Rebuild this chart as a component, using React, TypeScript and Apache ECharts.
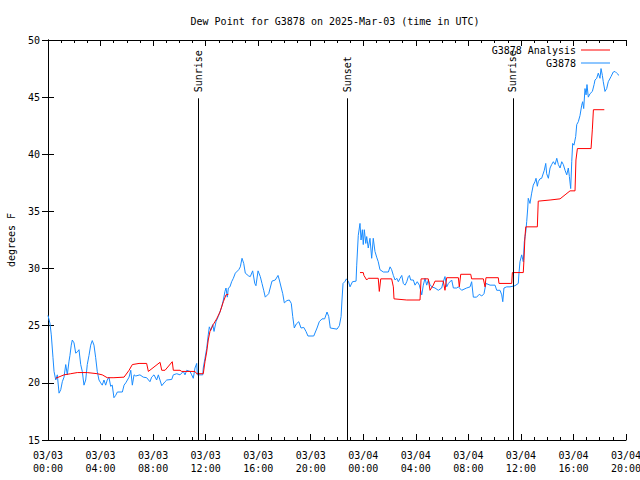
import React, { useEffect, useRef } from "react";
import * as echarts from "echarts";

// Hours since 2025-03-03 00:00 UTC
const stationHours = [
  0.0, 0.15, 0.25, 0.38, 0.46, 0.59, 0.71, 0.84, 0.97, 1.09, 1.22, 1.35, 1.47, 1.6, 1.67, 1.77, 1.85, 1.98,
  2.11, 2.23, 2.36, 2.49, 2.61, 2.74, 2.87, 2.99, 3.12, 3.25, 3.37, 3.5, 3.63, 3.75, 3.88, 4.01, 4.13, 4.26,
  4.39, 4.51, 4.64, 4.77, 4.89, 5.02, 5.15, 5.28, 5.66, 5.79, 5.92, 6.17, 6.3, 6.42, 6.55, 6.68, 7.0, 7.25,
  7.51, 7.76, 7.89, 8.07, 8.27, 8.4, 8.66, 8.91, 9.04, 9.42, 9.54, 9.8, 10.05, 10.3, 10.43, 10.56, 10.81,
  10.94, 11.06, 11.19, 11.32, 11.37, 11.57, 11.78, 11.82, 11.95, 12.08, 12.2, 12.28, 12.39, 12.54, 12.64,
  12.79, 12.96, 13.09, 13.22, 13.35, 13.47, 13.55, 13.65, 13.73, 13.85, 13.98, 14.11, 14.26, 14.52, 14.64,
  14.77, 14.9, 15.02, 15.28, 15.4, 15.58, 15.74, 15.83, 15.99, 16.16, 16.29, 16.42, 16.54, 16.8, 17.05, 17.3,
  17.51, 17.61, 17.76, 17.87, 17.99, 18.19, 18.37, 18.52, 18.63, 18.75, 18.9, 19.09, 19.26, 19.47, 19.64,
  19.79, 20.23, 20.48, 20.65, 20.86, 21.06, 21.24, 21.37, 21.49, 22.0, 22.18, 22.31, 22.38, 22.46, 22.59,
  22.72, 22.88, 22.99, 23.18, 23.45, 23.5, 23.62, 23.75, 23.83, 23.93, 24.0, 24.08, 24.19, 24.26, 24.38,
  24.51, 24.64, 24.76, 24.89, 25.02, 25.14, 25.27, 25.53, 25.91, 26.04, 26.16, 26.29, 26.42, 26.55, 26.67,
  26.8, 26.93, 27.05, 27.18, 27.31, 27.43, 27.51, 27.61, 27.81, 27.94, 28.11, 28.27, 28.45, 28.57, 28.7,
  28.83, 28.95, 29.08, 29.21, 29.46, 29.71, 29.97, 30.09, 30.22, 30.35, 30.48, 30.73, 30.86, 31.11, 31.24,
  31.49, 31.87, 32.13, 32.25, 32.38, 32.63, 32.83, 33.02, 33.19, 33.34, 33.65, 34.03, 34.16, 34.41, 34.54,
  34.62, 34.71, 34.92, 35.17, 35.55, 35.8, 35.86, 35.93, 36.06, 36.18, 36.26, 36.37, 36.44, 36.52, 36.56,
  36.69, 36.82, 36.94, 37.07, 37.15, 37.25, 37.32, 37.45, 37.58, 37.78, 37.89, 37.96, 38.09, 38.22, 38.34,
  38.47, 38.6, 38.73, 38.85, 38.98, 39.11, 39.23, 39.36, 39.49, 39.61, 39.69, 39.79, 39.87, 39.94, 40.04,
  40.17, 40.25, 40.37, 40.5, 40.63, 40.7, 40.78, 40.88, 40.96, 41.03, 41.13, 41.26, 41.44, 41.57, 41.64,
  41.77, 41.89, 42.02, 42.1, 42.2, 42.27, 42.4, 42.53, 42.65, 42.86, 43.03, 43.16, 43.29, 43.47,
];
const stationDewPoint = [
  25.9, 25.2, 24.2, 22.2, 21.0, 20.25, 20.7, 19.1, 19.4, 20.1, 20.5, 21.6, 20.7, 21.9, 22.4, 23.3, 23.75, 23.5,
  22.6, 22.7, 22.9, 21.6, 21.0, 19.8, 20.25, 21.6, 22.4, 23.3, 23.7, 23.3, 22.2, 21.0, 20.25, 20.0, 19.8, 20.25,
  19.8, 20.25, 20.5, 19.7, 19.8, 18.7, 18.9, 19.2, 19.2, 19.8, 20.0, 20.5, 21.1, 19.8, 20.7, 20.6, 20.7, 20.5,
  20.45, 20.1, 20.5, 20.7, 20.25, 20.7, 19.75, 20.1, 20.25, 20.3, 20.7, 20.8, 20.7, 21.0, 20.7, 21.1, 21.0,
  20.7, 20.4, 21.3, 21.7, 20.7, 20.7, 20.7, 21.3, 22.15, 23.0, 24.2, 24.9, 24.6, 25.1, 24.5,
  25.35, 25.8, 26.2, 26.65, 27.25, 28.0, 28.3, 27.5, 28.3, 28.4, 28.85, 29.15, 29.6, 29.9, 30.15,
  30.9, 30.45, 29.6, 29.35, 29.3, 29.8, 28.7, 28.5, 29.8, 29.3, 28.7, 28.1, 27.5, 27.8, 28.9, 29.0,
  29.4, 29.0, 28.3, 27.8, 27.0, 27.2, 27.25, 26.95, 25.8, 24.8, 25.15, 25.35, 24.8, 24.85, 24.5,
  24.1, 24.1, 24.8, 25.35, 25.6, 25.6, 26.2, 25.8, 24.8, 24.7, 25.0, 25.8, 27.25, 28.7, 28.85,
  29.1, 28.85, 28.4, 28.85, 28.9, 30.3, 32.9, 33.95, 32.5, 33.4, 32.1, 33.4, 32.2, 32.8, 31.8,
  32.65, 30.9, 32.65, 31.5, 31.0, 30.6, 29.9, 29.7, 29.7, 30.15, 29.9, 29.4, 29.0, 29.15, 28.85,
  29.15, 29.4, 28.7, 28.55, 28.85, 29.3, 29.4, 29.0, 29.0, 28.55, 28.85, 28.55, 27.7, 28.55, 29.15,
  28.55, 29.0, 28.6, 28.4, 28.3, 28.1, 28.3, 28.85, 29.3, 28.4, 28.7, 29.0, 28.3, 28.3, 28.4,
  28.1, 28.3, 28.4, 28.85, 27.5, 27.5, 27.75, 27.6, 27.8, 28.7, 28.55, 28.55, 28.1, 28.1, 27.7,
  27.1, 28.3, 28.4, 28.4, 28.5, 28.7, 29.7, 30.6, 31.2, 30.6, 32.35, 33.2, 34.1, 35.3, 36.15,
  35.7, 36.6, 37.3, 37.6, 37.9, 37.2, 37.6, 37.85, 37.9, 38.6, 39.2, 38.3, 37.9, 38.8, 39.1,
  39.35, 39.1, 39.65, 39.1, 38.8, 39.35, 39.1, 38.6, 38.2, 38.8, 38.05, 37.0, 39.35, 40.95, 40.8,
  41.55, 42.6, 42.85, 43.4, 44.3, 44.6, 44.0, 45.75, 45.2, 46.1, 45.0, 45.3, 45.5, 46.1, 46.5,
  46.65, 47.1, 46.65, 47.5, 46.9, 46.35, 45.5, 45.75, 46.35, 46.8, 47.2, 47.25, 47.1, 46.9,
];

const analysisHours = [
  0.59, 1.22, 1.73, 2.23, 2.99, 3.75, 4.13, 4.51, 5.02, 5.79, 6.17, 6.42, 6.93, 7.51, 7.64, 8.53, 8.66, 8.91,
  9.46, 9.54, 10.05, 10.18, 11.19, 11.32, 11.82, 11.95, 12.08, 12.2, 12.33, 12.58, 12.84, 13.09, 13.35, 13.55,
  13.73, 18.0,
  23.75, 24.0, 24.05, 24.26, 24.38, 25.14, 25.22, 25.33, 26.16, 26.29, 26.34, 27.31, 28.32, 28.4, 28.95,
  29.08, 29.33, 29.46, 30.09, 30.22, 30.35, 31.24, 31.31, 31.42, 32.18, 32.25, 33.14, 33.27, 33.34, 34.28,
  34.33, 35.3, 35.35, 36.18, 36.23, 36.31, 36.37, 37.25, 37.32, 38.22, 38.98, 39.36, 39.74, 40.12, 40.19,
  40.3, 41.34, 41.44, 41.52, 42.35,
];
const analysisDewPoint = [
  20.4, 20.7, 20.8, 20.9, 20.9, 20.8, 20.7, 20.45, 20.45, 20.5, 21.1, 21.6, 21.7, 21.7, 21.0, 21.8, 21.1, 21.1,
  21.85, 21.1, 21.1, 21.0, 21.0, 20.8, 20.8, 21.85, 22.7, 23.75, 24.5, 25.1, 25.6, 26.2, 27.1, 27.7,
  27.75, null,
  29.65, 29.65, 29.4, 29.0, 29.15, 29.15, 28.0, 29.1, 29.1, 28.4, 27.35, 27.25, 27.25, 29.1, 29.1,
  28.1, 28.55, 28.9, 28.9, 28.1, 29.2, 29.2, 28.4, 29.5, 29.5, 29.1, 29.1, 28.4, 29.2, 29.2,
  28.7, 28.7, 29.65, 29.65, 30.7, 32.8, 33.65, 33.65, 35.9, 36.0, 36.1, 36.45, 36.8, 36.8, 39.5,
  40.5, 40.5, 42.2, 43.9, 43.9,
];

const sunEventHours = [11.42, 22.77, 35.38];
const sunEventNames = ["Sunrise", "Sunset", "Sunrise"];
const sunLineTop = 44.9;

const xTickStep = 4;
const dayLabels = ["03/03", "03/04"];

const FONT = "DejaVu Sans Mono";
const BLUE = "#1a8cff";
const RED = "#ff0000";

export default function App() {
  const ref = useRef<HTMLDivElement>(null);
  useEffect(() => {
    if (!ref.current) return;
    const chart = echarts.init(ref.current, null, { renderer: "svg" });
    const fmt = (v: number) => {
      const d = Math.floor(v / 24);
      const hh = Math.round(v - d * 24);
      return `${dayLabels[d] ?? ""}\n${String(hh).padStart(2, "0")}:00`;
    };
    const commonX = {
      type: "value" as const,
      min: 0,
      max: 44,
      interval: xTickStep,
      axisLine: { show: true, lineStyle: { color: "#000", width: 1 } },
      axisTick: { show: true, inside: true, length: 6, lineStyle: { color: "#000" } },
      minorTick: { show: true, splitNumber: 4, length: 3, lineStyle: { color: "#000" } },
      splitLine: { show: false },
    };
    const commonY = {
      type: "value" as const,
      min: 15,
      max: 50,
      interval: 5,
      axisLine: { show: true, lineStyle: { color: "#000", width: 1 } },
      axisTick: { show: true, inside: true, length: 6, lineStyle: { color: "#000" } },
      splitLine: { show: false },
    };
    chart.setOption({
      animation: false,
      backgroundColor: "#fff",
      textStyle: { fontFamily: FONT },
      title: {
        text: "Dew Point for G3878 on 2025-Mar-03 (time in UTC)",
        left: 330,
        textAlign: "center",
        top: 11,
        textStyle: { fontFamily: FONT, fontSize: 10, fontWeight: "normal", color: "#000" },
      },
      legend: [
        {
          data: ["G3878 Analysis"],
          right: 30,
          top: 45,
          align: "right",
          orient: "vertical",
          itemWidth: 29,
          itemHeight: 1,
          icon: "rect",
          padding: 0,
          textStyle: { fontFamily: FONT, fontSize: 10, color: "#000" },
        },
        {
          data: ["G3878"],
          right: 30,
          top: 58,
          align: "right",
          orient: "vertical",
          itemWidth: 29,
          itemHeight: 1,
          icon: "rect",
          padding: 0,
          textStyle: { fontFamily: FONT, fontSize: 10, color: "#000" },
        },
      ],
      grid: { left: 48, right: 14, top: 40, bottom: 40, containLabel: false, outerBoundsMode: "none" },
      xAxis: [
        {
          ...commonX,
          position: "bottom",
          axisLabel: {
            formatter: fmt,
            fontFamily: FONT,
            fontSize: 10,
            color: "#000",
            margin: 9,
            lineHeight: 13,
          },
        },
        { ...commonX, position: "top", axisLabel: { show: false } },
      ],
      yAxis: [
        {
          ...commonY,
          position: "left",
          name: "degrees F",
          nameLocation: "middle",
          nameGap: 32,
          nameTextStyle: { fontFamily: FONT, fontSize: 10, color: "#000" },
          axisLabel: { fontFamily: FONT, fontSize: 10, color: "#000", margin: 8 },
        },
        { ...commonY, position: "right", axisLabel: { show: false } },
      ],
      series: [
        {
          name: "G3878 Analysis",
          type: "line",
          data: analysisHours.map((h, i) => [h, analysisDewPoint[i] === null ? "-" : analysisDewPoint[i]]),
          showSymbol: false,
          symbol: "none",
          connectNulls: false,
          color: RED,
          lineStyle: { color: RED, width: 1 },
          z: 3,
        },
        {
          name: "G3878",
          type: "line",
          data: stationHours.map((h, i) => [h, stationDewPoint[i]]),
          showSymbol: false,
          symbol: "none",
          color: BLUE,
          lineStyle: { color: BLUE, width: 1 },
          z: 2,
          markLine: {
            silent: true,
            symbol: "none",
            label: { show: false },
            lineStyle: { color: "#000", width: 1, type: "solid" },
            data: sunEventHours.map((h) => [
              { coord: [h, 15] },
              { coord: [h, sunLineTop] },
            ]),
          },
        },
      ],
    });
    const texts = sunEventHours.map((h, i) => {
      const p = chart.convertToPixel({ xAxisIndex: 0, yAxisIndex: 0 }, [h, sunLineTop]) as number[];
      return {
        type: "text",
        x: p[0],
        y: p[1] - 6,
        rotation: Math.PI / 2,
        style: {
          text: sunEventNames[i],
          align: "left",
          verticalAlign: "middle",
          font: `10px '${FONT}'`,
          fill: "#000",
        },
        z: 10,
      };
    });
    chart.setOption({ graphic: texts });
    return () => chart.dispose();
  }, []);
  return <div ref={ref} style={{ width: 640, height: 480, position: "absolute", left: 0, top: 0 }} />;
}
